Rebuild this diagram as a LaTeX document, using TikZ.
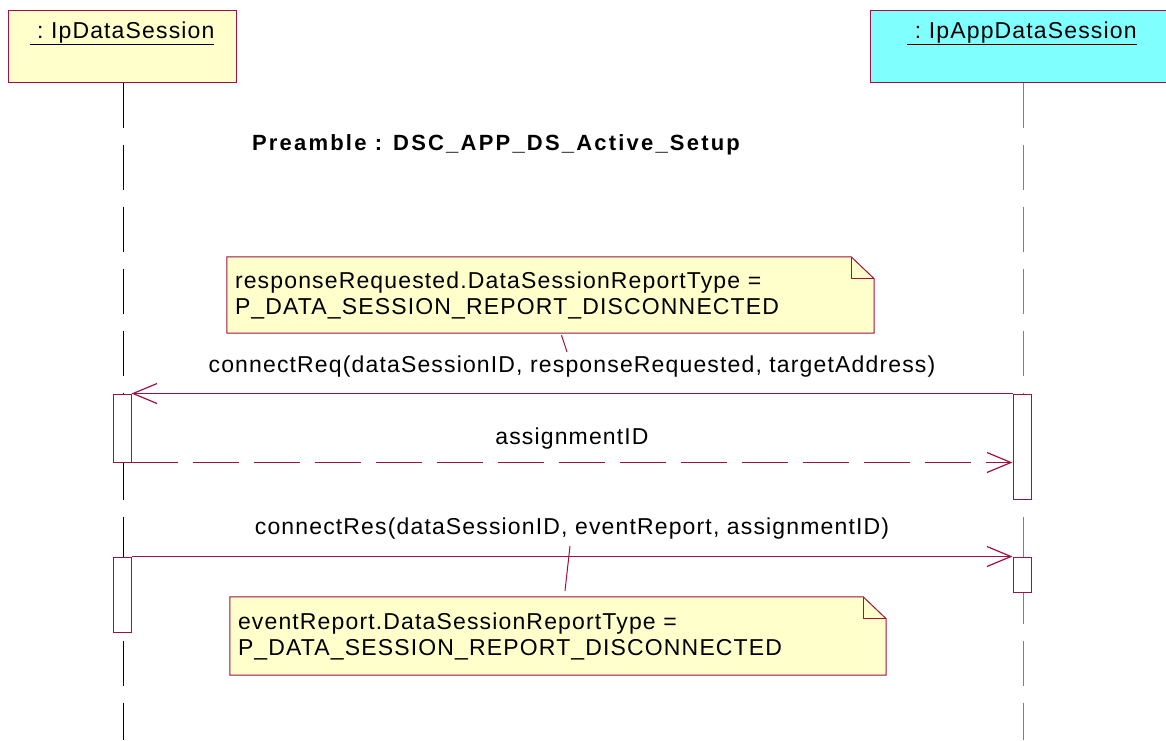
\documentclass[tikz,border=0pt]{standalone}
\usepackage{fontspec}
\setmainfont{Liberation Sans}[LetterSpace=5]
\usetikzlibrary{positioning,calc,backgrounds,arrows.meta}

\begin{document}
\begin{tikzpicture}[x=1pt,y=-1pt]
	\definecolor{umlred}{RGB}{160,16,64}
	\definecolor{noteyellow}{RGB}{255,255,204}
	\definecolor{appcyan}{RGB}{128,255,255}
	\tikzset{
		txt/.style={
			font=\fontsize{23}{26}\selectfont,
			inner sep=0pt
		},
		objbox/.style={
			draw=umlred,
			line width=1pt,
			minimum width=228pt,
			minimum height=72pt,
			inner sep=0pt
		},
		life/.style={
			line width=1pt,
			dash pattern=on 45pt off 17pt
		},
		act/.style={
			draw=umlred,
			fill=white,
			line width=1pt,
			minimum width=18pt,
			inner sep=0pt
		},
		msg/.style={
			draw=umlred,
			line width=1.2pt,
			-{Straight Barb[length=24pt,width=20pt]}
		},
		reply/.style={
			msg,
			dash pattern=on 46pt off 15pt
		},
		note/.style={
			txt,
			align=left,
			inner xsep=8pt
		},
		noteline/.style={
			draw=umlred,
			line width=1pt
		}
	}
	\useasboundingbox (0,0) rectangle (1166,740);
	
	% ======= Objects =======
	\node[objbox, fill=noteyellow] (ds) at (122,46) {};
	\node[objbox, fill=appcyan, minimum width=300pt] (app) at (1020,46) {};
	\node[txt, anchor=base] (dsname) at (122,38) {\underline{\ :\ IpDataSession}};
	\node[txt, anchor=base] (appname) at (1022,38) {\underline{\ :\ IpAppDataSession}};
	
	% ======= Lifelines =======
	\coordinate (dsend) at (123,740);
	\coordinate (append) at (1023,740);
	\draw[life] (ds.south -| dsend) -- (dsend);
	\draw[life, gray] (app.south -| append) -- (append);
	
	\node[txt, font=\fontsize{22}{26}\selectfont\bfseries\addfontfeatures{LetterSpace=10}, anchor=base] (pre) at (496,150) {Preamble : DSC\_APP\_DS\_Active\_Setup};
	
	% ======= Activations =======
	\node[act, minimum height=68pt] (a1) at (122,428) {};
	\node[act, minimum height=105pt] (a2) at (1022,446.5) {};
	\node[act, minimum height=75pt] (a3) at (122,594.5) {};
	\node[act, minimum height=35pt] (a4) at (1022,574.5) {};
	
	% ======= Messages =======
	\draw[msg] (a2.north west) -- node[txt, anchor=base, yshift=21pt] (lreq) {connectReq(dataSessionID, responseRequested, targetAddress)} (a1.north east);
	\draw[reply] (a1.south east) -- node[txt, anchor=base, yshift=18pt] (lassign) {assignmentID} (a1.south east -| a2.west);
	\draw[msg] (a3.north east) -- node[txt, anchor=base, yshift=22pt] (lres) {connectRes(dataSessionID, eventReport, assignmentID)} (a4.north west);
	
	% ======= Notes =======
	\node[note, text width=631pt, minimum height=76pt] (n1) at (550.5,295) {responseRequested.DataSessionReportType =\\P\_DATA\_SESSION\_REPORT\_DISCONNECTED};
	\node[note, text width=640pt, minimum height=78pt] (n2) at (558,636) {eventReport.DataSessionReportType =\\P\_DATA\_SESSION\_REPORT\_DISCONNECTED};
	\begin{scope}[on background layer]
		\foreach \n in {n1,n2} {
			\filldraw[draw=umlred, fill=noteyellow, line width=1pt] (\n.south west) -- (\n.north west) -- ([xshift=-23pt]\n.north east) -- ([yshift=-22pt]\n.north east) -- (\n.south east) -- cycle;
			\draw[umlred, line width=1pt] ([xshift=-23pt]\n.north east) -- ([xshift=-23pt,yshift=-22pt]\n.north east) -- ([yshift=-22pt]\n.north east);
		}
	\end{scope}
	\coordinate (r1) at (567,352);
	\coordinate (r2) at (570,546);
	\draw[noteline] ([xshift=11pt,yshift=-2pt]n1.south) -- (r1);
	\draw[noteline] (r2) -- ([xshift=7pt,yshift=6pt]n2.north);
\end{tikzpicture}
\end{document}
